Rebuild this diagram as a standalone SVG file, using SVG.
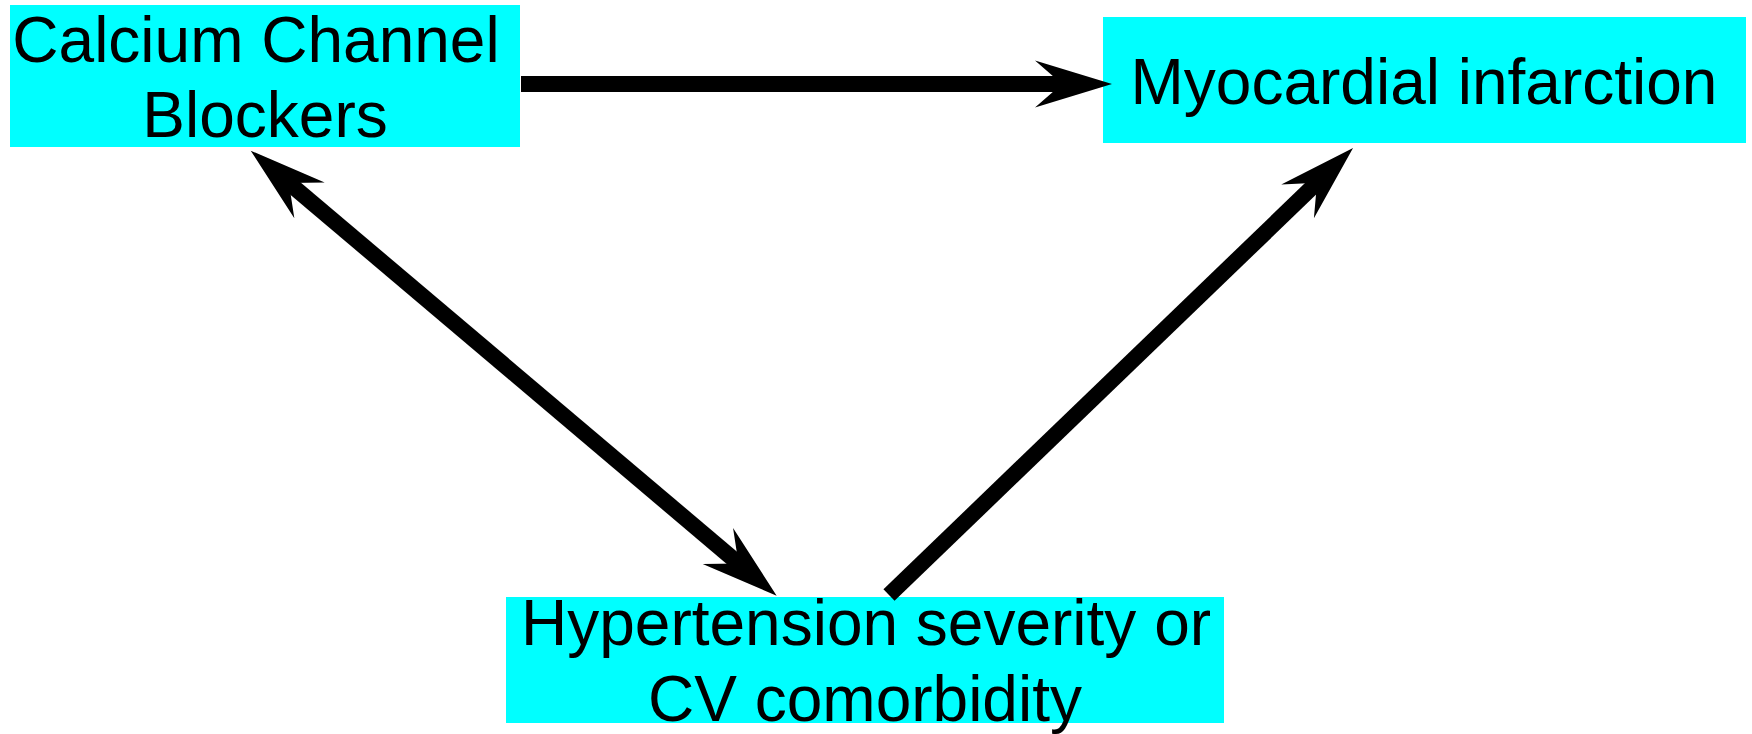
<svg xmlns="http://www.w3.org/2000/svg" width="1752" height="734" viewBox="0 0 1752 734">
  <style>
    .box { fill: #00ffff; }
    .label { font-family: "Liberation Sans", Arial, Helvetica, sans-serif; font-size: 64px; fill: #000000; text-anchor: middle; }
    .edge { stroke: #000000; stroke-width: 16; fill: none; stroke-linecap: butt; }
  </style>
  <defs>
    <!-- barbed arrowhead, sized in user units; the shaft stops inside the head -->
    <marker id="head" markerUnits="userSpaceOnUse" viewBox="0 -25 80 50" markerWidth="80" markerHeight="50" refX="35" refY="0" orient="auto-start-reverse">
      <path d="M0,-23.5 L77,0 L0,23.5 L27,0 Z" fill="#000000"/>
    </marker>
  </defs>

  <rect width="1752" height="734" fill="#ffffff"/>

  <g id="node-ccb">
    <rect class="box" x="10" y="5" width="510" height="142"/>
    <text class="label" x="256" y="62">Calcium Channel</text>
    <text class="label" x="265" y="137">Blockers</text>
  </g>

  <g id="node-mi">
    <rect class="box" x="1103" y="17" width="643" height="126"/>
    <text class="label" x="1424" y="103.5">Myocardial infarction</text>
  </g>

  <g id="node-htn">
    <rect class="box" x="506" y="597" width="718" height="126"/>
    <text class="label" x="866" y="645">Hypertension severity or</text>
    <text class="label" x="865" y="721">CV comorbidity</text>
  </g>

  <g id="connectors">
    <!-- CCB -> MI -->
    <line class="edge" x1="521" y1="84" x2="1070" y2="84" marker-end="url(#head)"/>
    <!-- CCB <-> Hypertension -->
    <line class="edge" x1="282.8" y1="177.8" x2="744.6" y2="568.6" marker-start="url(#head)" marker-end="url(#head)"/>
    <!-- Hypertension -> MI -->
    <line class="edge" x1="889" y1="595" x2="1322.8" y2="177.1" marker-end="url(#head)"/>
  </g>
</svg>
